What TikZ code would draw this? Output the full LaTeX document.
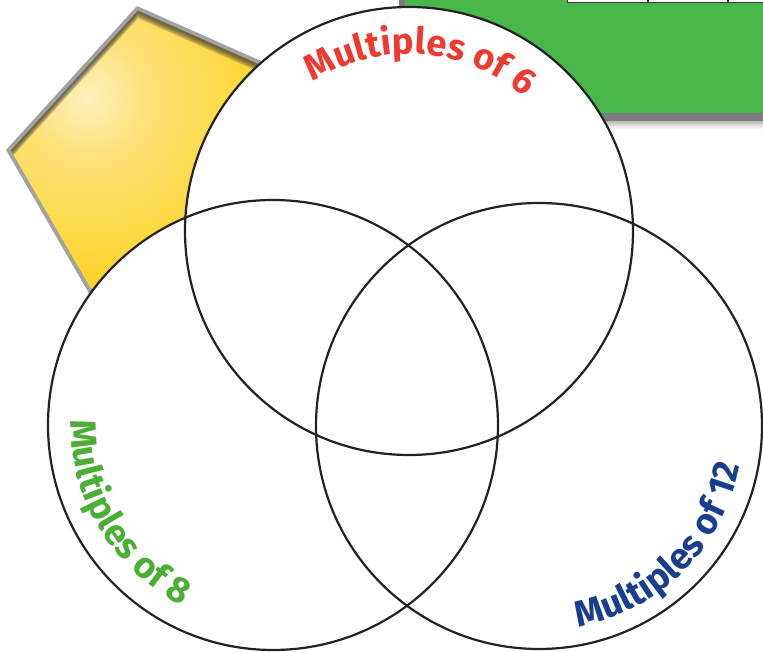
\documentclass[tikz,border=0pt]{standalone}
\usepackage{fontspec}
\newfontfamily\lblfont{Fira Sans}
\usetikzlibrary{decorations.text}
\definecolor{boardgreen}{HTML}{49B64A}
\definecolor{boardshadow}{HTML}{7C7C7C}
\definecolor{tableline}{HTML}{3A3A3A}
\definecolor{pentborder}{HTML}{A2A2A2}
\definecolor{ycream}{HTML}{FEF0BE}
\definecolor{ylight}{HTML}{FDE27A}
\definecolor{ygold}{HTML}{FDD324}
\definecolor{yorange}{HTML}{FBB526}
\definecolor{sixred}{HTML}{EE3A2F}
\definecolor{eightgreen}{HTML}{4BAE35}
\definecolor{twelveblue}{HTML}{183F8E}
\definecolor{ringline}{HTML}{222222}
\newcommand{\lblfmt}{\lblfont\bfseries\fontsize{36.5pt}{36.5pt}\selectfont}
\pgfdeclareradialshading{yelshade}{\pgfpointorigin}{color(0bp)=(ycream); color(5bp)=(ylight); color(16bp)=(ygold); color(40bp)=(yorange); color(50bp)=(yorange)}
\begin{document}
\begin{tikzpicture}[x=1pt,y=1pt,
  ring/.style={draw=ringline, line width=2.2pt},
  ringfill/.style={fill=white},
  lbl/.style={decorate, decoration={text along path, text align=center, text={|\lblfmt|#1}}}]
\useasboundingbox (0,0) rectangle (763,652);
\begin{scope}
\clip (0,0) rectangle (763,652);
% green board with shadow
\shade[top color=boardshadow!60, bottom color=white] (400,523) rectangle (770,532);
\fill[boardshadow] (399,531) rectangle (770,660);
\fill[boardgreen] (405,539) rectangle (770,660);
\fill[white] (567,649.5) rectangle (770,660);
\draw[tableline, line width=1.6pt] (567.5,660) -- (567.5,649.5) -- (770,649.5);
\draw[tableline, line width=1.4pt] (648,660) -- (648,649.5);
\draw[tableline, line width=1.4pt] (728,660) -- (728,649.5);
% yellow pentagon
\coordinate (pa) at (137,646);
\coordinate (pb) at (6,502);
\coordinate (pc) at (103.6,333.5);
\coordinate (pd) at (294,374.3);
\coordinate (pe) at (315,567.1);
\coordinate (qa) at (138.0,641.2);
\coordinate (qb) at (11.0,501.5);
\coordinate (qc) at (105.6,338.0);
\coordinate (qd) at (290.3,377.6);
\coordinate (qe) at (310.7,564.6);
\fill[pentborder] (pa) -- (pb) -- (pc) -- (pd) -- (pe) -- cycle;
\begin{scope}
\clip (qa) -- (qb) -- (qc) -- (qd) -- (qe) -- cycle;
\shade[shading=yelshade] (88,555) circle (300pt);
\foreach \s in {1.5,3,4.5,6,7.5}{
  \fill[black!80!yellow!60!black, opacity=0.24, even odd rule] (-20,300) rectangle (340,670)
    ([yshift=-\s pt]qa) -- ([yshift=-\s pt]qb) -- ([yshift=-\s pt]qc) -- ([yshift=-\s pt]qd) -- ([yshift=-\s pt]qe) -- cycle;
}
\end{scope}
% circles
\coordinate (ctop) at (409,421);
\coordinate (cleft) at (273,227);
\coordinate (cright) at (539,226);
\fill[ringfill] (ctop) circle (224pt);
\fill[ringfill] (cleft) circle (225pt);
\fill[ringfill] (cright) circle (223pt);
\draw[ring] (ctop) circle (224pt);
\draw[ring] (cleft) circle (225pt);
\draw[ring] (cright) circle (223pt);
% labels
\path[lbl={Multiples of 6}, decoration={text color=sixred}] (ctop) ++(136:177pt) arc[start angle=136, end angle=36, radius=177pt];
\path[lbl={Multiples of 8}, decoration={text color=eightgreen}] (cleft) ++(161:202pt) arc[start angle=161, end angle=261, radius=202pt];
\path[lbl={Multiples of 12}, decoration={text color=twelveblue}] (cright) ++(265:205pt) arc[start angle=265, end angle=365, radius=205pt];
\end{scope}
\end{tikzpicture}
\end{document}
